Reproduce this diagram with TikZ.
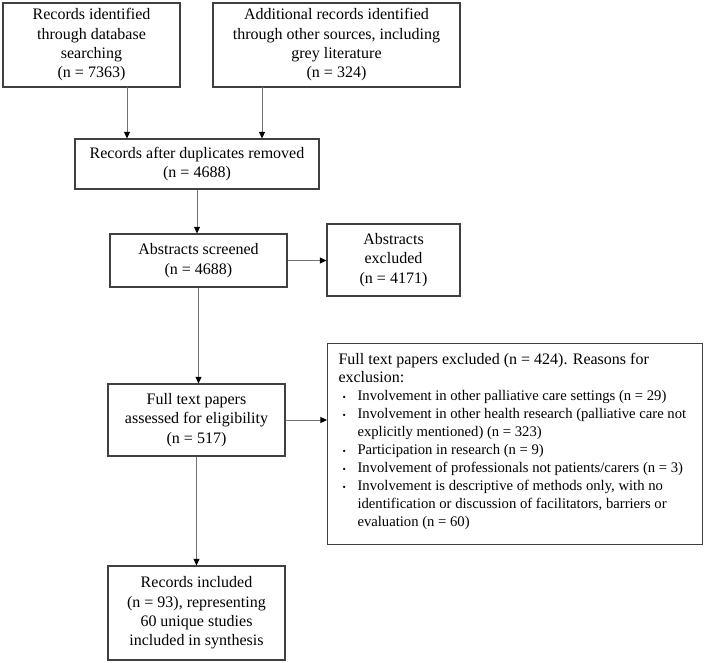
\documentclass[tikz,border=0pt]{standalone}
\usepackage{fontspec}
\setmainfont{Liberation Serif}
\usetikzlibrary{arrows.meta}

\tikzset{
  box/.style={draw=black!75, line width=0.8pt, align=center, inner sep=2pt,
    font=\fontsize{12}{14.5}\selectfont},
  arr/.style={draw=black!55, line width=0.75pt,
    -{Triangle[length=5pt,width=4.5pt,color=black]}}
}
\newcommand{\exitem}{\par\noindent\hangindent=14.25pt\hangafter=1%
  \makebox[14.25pt][l]{\hspace{3pt}{\scriptsize\textbullet}}}

\begin{document}
\begin{tikzpicture}[x=0.75pt, y=-0.75pt]
    \useasboundingbox (0,0) rectangle (705,662);
    \coordinate (DB) at (91.5,45);
    \coordinate (OT) at (336.5,45);
    \coordinate (DU) at (197,164);
    \coordinate (SC) at (198.5,260.5);
    \coordinate (AE) at (393.5,260);
    \coordinate (FT) at (196.5,420);
    \coordinate (FE) at (327,343);
    \coordinate (IN) at (196.5,613);
    \node[box, minimum width=132.75pt, minimum height=63pt] (db) at (DB)
      {Records identified\\through database\\searching\\(n = 7363)};
    \node[box, minimum width=185.25pt, minimum height=63pt] (other) at (OT)
      {Additional records identified\\through other sources, including\\grey literature\\(n = 324)};
    \node[box, minimum width=183pt, minimum height=37.5pt] (dup) at (DU)
      {Records after duplicates removed\\(n = 4688)};
    \node[box, minimum width=132.75pt, minimum height=39.75pt] (screen) at (SC)
      {Abstracts screened\\(n = 4688)};
    \node[box, minimum width=99.75pt, minimum height=54pt] (absex) at (AE)
      {Abstracts\\excluded\\(n = 4171)};
    \node[box, minimum width=132.75pt, minimum height=54pt] (full) at (FT)
      {Full text papers\\assessed for eligibility\\(n = 517)};
    \node[box, align=left, anchor=north west, inner sep=0pt] (fullex) at (FE)
      {\begin{minipage}[t][150.75pt][t]{281.25pt}
        \vspace*{7pt}\leftskip=8.25pt\rightskip=0pt plus 1fil
        \fontsize{12}{13.5}\selectfont
        \noindent Full text papers excluded (n = 424). Reasons for\newline exclusion:
        \fontsize{11}{13.5}\selectfont
        \exitem Involvement in other palliative care settings (n = 29)
        \exitem Involvement in other health research (palliative care not\newline explicitly mentioned) (n = 323)
        \exitem Participation in research (n = 9)
        \exitem Involvement of professionals not patients/carers (n = 3)
        \exitem Involvement is descriptive of methods only, with no\newline identification or discussion of facilitators, barriers or\newline evaluation (n = 60)\par
      \end{minipage}};
    \node[box, minimum width=132.75pt, minimum height=70.5pt] (incl) at (IN)
      {Records included\\(n = 93), representing\\60 unique studies\\included in synthesis};
    \coordinate (dbout) at (127,87);
    \coordinate (otout) at (262,87);
    \draw[arr] (dbout) -- (dbout |- dup.north);
    \draw[arr] (otout) -- (otout |- dup.north);
    \draw[arr] (dup.south) -- (dup.south |- screen.north);
    \draw[arr] (screen.east) -- (screen.east -| absex.west);
    \draw[arr] (screen.south) -- (screen.south |- full.north);
    \draw[arr] (full.east) -- (full.east -| fullex.west);
    \draw[arr] (full.south) -- (incl.north);
  \end{tikzpicture}
\end{document}
